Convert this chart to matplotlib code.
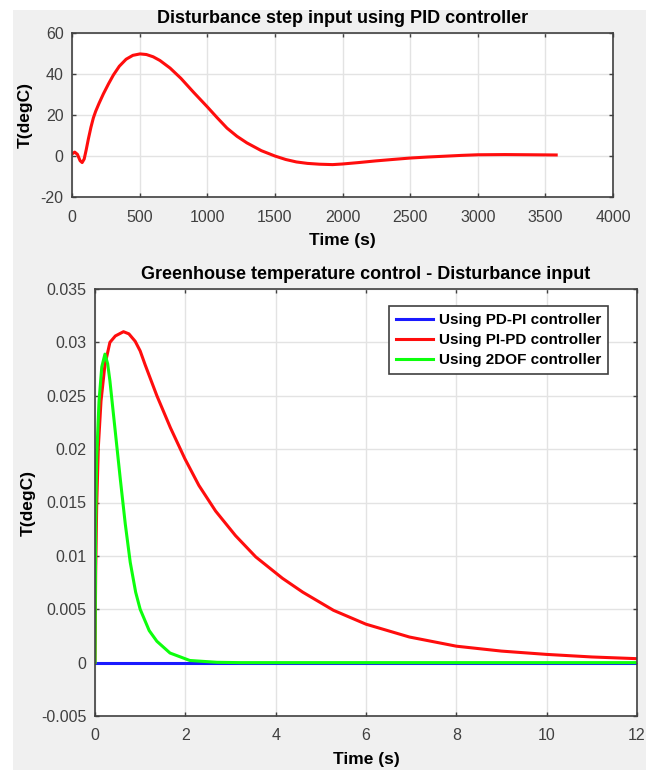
import numpy as np
import matplotlib
matplotlib.use('Agg')
import matplotlib.pyplot as plt
from matplotlib.patches import Rectangle

plt.rcParams['font.family'] = ['Liberation Sans', 'DejaVu Sans']
plt.rcParams['axes.unicode_minus'] = False

# top plot: disturbance step, PID controller
t_pid = [0, 20, 40, 60, 75, 90, 105, 121, 140, 158, 175, 200, 232, 270, 306, 350,
         400, 450, 503, 550, 600, 650, 725, 805, 900, 1000, 1073, 1146, 1220, 1293,
         1400, 1500, 1580, 1659, 1740, 1829, 1927, 2000, 2120, 2244, 2370, 2500,
         2630, 2756, 2880, 3000, 3200, 3400, 3580]
T_pid = [1.0, 1.9, 0.8, -2.3, -3.2, -1.5, 3.0, 8.3, 14.0, 18.6, 21.8, 25.7, 30.3,
         35.2, 39.5, 43.8, 47.2, 49.1, 49.8, 49.5, 48.4, 46.6, 42.9, 37.9, 31.0,
         24.0, 18.7, 13.6, 9.6, 6.4, 2.6, 0.0, -1.7, -2.9, -3.6, -4.0, -4.2, -3.9,
         -3.2, -2.4, -1.7, -1.0, -0.5, -0.1, 0.3, 0.6, 0.7, 0.6, 0.5]

# bottom plot: greenhouse temperature, disturbance input
t_pdpi = [0, 12]
T_pdpi = [0, 0]

t_pipd = [0, 0.015, 0.037, 0.074, 0.133, 0.22, 0.33, 0.45, 0.63, 0.75, 0.89, 1.0,
          1.11, 1.37, 1.67, 1.99, 2.30, 2.67, 3.11, 3.56, 4.15, 4.6, 5.28, 6.0, 6.96,
          8.0, 9.0, 10.0, 11.0, 12.0]
T_pipd = [0, 0.0084, 0.0146, 0.0202, 0.0245, 0.0279, 0.0300, 0.0306, 0.0310, 0.0308,
          0.0301, 0.0292, 0.0279, 0.0250, 0.0220, 0.0191, 0.0166, 0.0142, 0.0119,
          0.0099, 0.0079, 0.0066, 0.0049, 0.0036, 0.0024, 0.00154, 0.00108,
          0.00077, 0.00053, 0.00037]

t_2dof = [0, 0.015, 0.037, 0.089, 0.15, 0.22, 0.28, 0.33, 0.44, 0.56, 0.67, 0.78,
          0.9, 1.0, 1.2, 1.37, 1.66, 2.1, 2.7, 3.2, 12.0]
T_2dof = [0, 0.013, 0.0192, 0.0245, 0.0277, 0.0289, 0.0280, 0.0264, 0.0220, 0.0172,
          0.0130, 0.0094, 0.0066, 0.0050, 0.0030, 0.0020, 0.0009, 0.0002, 0.00003,
          0, 0]

fig = plt.figure(figsize=(6.46, 7.72), dpi=100, facecolor='white')
fig.patches.append(Rectangle((13/646, 2/772), 1, 1 - 12/772, transform=fig.transFigure,
                             facecolor='#f0f0f0', edgecolor='none', zorder=-10))

tick_col = '#404040'

def style(ax):
    ax.set_facecolor('white')
    ax.grid(True, color='#e3e3e3', linewidth=1)
    ax.set_axisbelow(True)
    ax.tick_params(direction='in', top=True, right=True, length=3, width=1,
                   colors=tick_col, labelsize=11.5)
    ax.tick_params(axis='x', pad=9)
    ax.tick_params(axis='y', pad=6)
    for s in ax.spines.values():
        s.set_color(tick_col)
        s.set_linewidth(1.2)

ax1 = fig.add_axes([72/646, 1 - 197/772, (613-72)/646, (197-33)/772])
style(ax1)
ax1.plot(t_pid, T_pid, color='#ff0d0d', linewidth=2.2, solid_joinstyle='round')
ax1.set_xlim(0, 4000)
ax1.set_ylim(-20, 60)
ax1.set_xticks(np.arange(0, 4001, 500))
ax1.set_yticks(np.arange(-20, 61, 20))
ax1.set_title('Disturbance step input using PID controller', fontsize=13,
              fontweight='bold', pad=7)
ax1.set_xlabel('Time (s)', fontsize=12.5, fontweight='bold', labelpad=6)
ax1.set_ylabel('T(degC)', fontsize=12.5, fontweight='bold', labelpad=6)

ax2 = fig.add_axes([95/646, 1 - 716/772, (637-95)/646, (716-289)/772])
style(ax2)
ax2.plot(t_pdpi, T_pdpi, color='#1a1aff', linewidth=2.2, label='Using PD-PI controller')
ax2.plot(t_pipd, T_pipd, color='#ff0d0d', linewidth=2.2, solid_joinstyle='round',
         label='Using PI-PD controller')
ax2.plot(t_2dof, T_2dof, color='#0dff0d', linewidth=2.2, solid_joinstyle='round',
         label='Using 2DOF controller')
ax2.set_xlim(0, 12)
ax2.set_ylim(-0.005, 0.035)
ax2.set_xticks(np.arange(0, 13, 2))
ax2.set_yticks(np.arange(-0.005, 0.0351, 0.005))
ax2.set_yticklabels(['-0.005', '0', '0.005', '0.01', '0.015', '0.02', '0.025',
                     '0.03', '0.035'])
ax2.set_title('Greenhouse temperature control - Disturbance input', fontsize=13,
              fontweight='bold', pad=7)
ax2.set_xlabel('Time (s)', fontsize=12.5, fontweight='bold', labelpad=6)
ax2.set_ylabel('T(degC)', fontsize=12.5, fontweight='bold', labelpad=4)
leg = ax2.legend(loc='upper right', bbox_to_anchor=(0.947, 0.96), fancybox=False,
                 framealpha=1, edgecolor='#404040', prop={'size': 11, 'weight': 'bold'},
                 handlelength=2.4, handletextpad=0.4, borderpad=0.45, labelspacing=0.4,
                 borderaxespad=0)
leg.get_frame().set_linewidth(1.2)

fig.savefig('out.png', dpi=100, facecolor=fig.get_facecolor())
